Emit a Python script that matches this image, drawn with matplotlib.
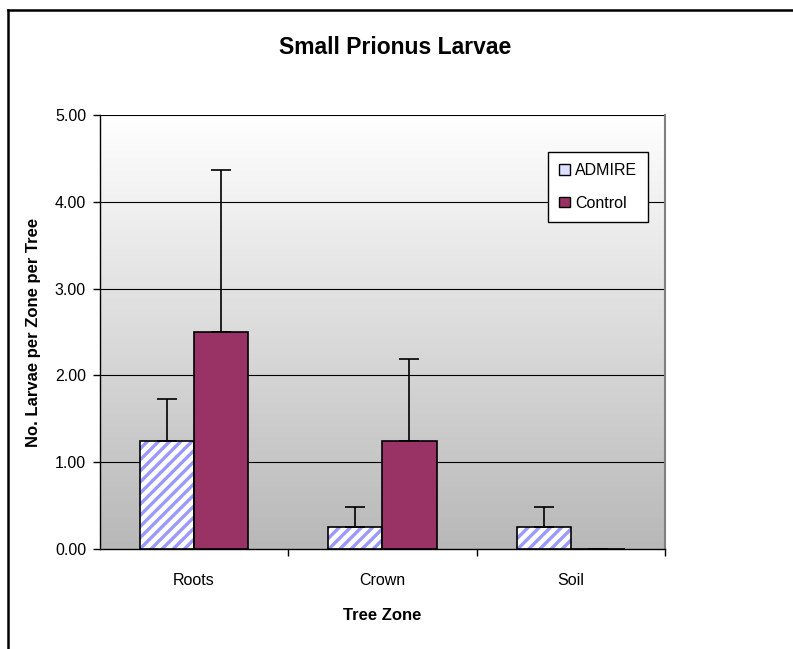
import matplotlib
matplotlib.use('Agg')
import matplotlib.pyplot as plt
import numpy as np
from matplotlib.lines import Line2D
from matplotlib.patches import Rectangle

# data
zones = ["Roots", "Crown", "Soil"]
admire = [1.25, 0.25, 0.25]
admire_err = [0.48, 0.24, 0.24]
control = [2.50, 1.25, 0.0]
control_err = [1.87, 0.94, 0.0]
yticks = [0, 1, 2, 3, 4, 5]

plt.rcParams['font.family'] = ['Liberation Sans', 'DejaVu Sans']
plt.rcParams['hatch.linewidth'] = 2.4

HATCH_BLUE = '#9999ff'
CONTROL = '#993366'

fig = plt.figure(figsize=(7.93, 6.49), dpi=100, facecolor='white')
ax = fig.add_axes([0.126, 0.154, 0.7126, 0.6688])

# gradient plot area background
grad = np.linspace(0, 1, 256).reshape(-1, 1)
cmap = matplotlib.colors.LinearSegmentedColormap.from_list('g', ['#ffffff', '#b8b8b8'])
ax.imshow(grad, cmap=cmap, extent=[-0.5, 2.5, 0, 5], aspect='auto', origin='upper', zorder=0)

x = np.arange(len(zones))
w = 0.287
# hatch drawn in blue, outline drawn on top in black
ax.bar(x - w / 2, admire, w, color='white', edgecolor=HATCH_BLUE, hatch='///', linewidth=0, zorder=3)
ax.bar(x - w / 2, admire, w, fill=False, edgecolor='black', linewidth=1.2, zorder=3.5)
ax.bar(x + w / 2, control, w, color=CONTROL, edgecolor='black', linewidth=1.2, zorder=3)
ax.errorbar(x - w / 2, admire, yerr=[np.zeros(3), admire_err], fmt='none', ecolor='black',
            elinewidth=1.2, capsize=7, capthick=1.2, zorder=4)
ax.errorbar(x + w / 2, control, yerr=[np.zeros(3), control_err], fmt='none', ecolor='black',
            elinewidth=1.2, capsize=7, capthick=1.2, zorder=4)

ax.set_xlim(-0.5, 2.5)
ax.set_ylim(0, 5)
ax.set_yticks(yticks)
ax.set_yticklabels([f"{v:.2f}" for v in yticks], fontsize=11.5)
for v in yticks[1:]:
    ax.axhline(v, color='black', linewidth=0.8, zorder=1)

ax.set_xticks(x)
ax.set_xticklabels(zones, fontsize=11.5)
ax.tick_params(axis='x', length=0, pad=17)
ax.set_xticks([0.5, 1.5, 2.5], minor=True)
ax.tick_params(axis='x', which='minor', length=5, width=1)
ax.tick_params(axis='y', length=5, width=1, direction='out', pad=5)

ax.spines['top'].set_visible(False)
ax.spines['right'].set_color('#808080')
ax.spines['right'].set_linewidth(1.5)
ax.spines['left'].set_linewidth(1.0)
ax.spines['bottom'].set_linewidth(1.0)

ax.set_ylabel("No. Larvae per Zone per Tree", fontsize=12, fontweight='bold', labelpad=10)
ax.set_xlabel("Tree Zone", fontsize=12, fontweight='bold', labelpad=15)
fig.text(0.498, 0.927, "Small Prionus Larvae", ha='center', va='center', fontsize=16.5,
         fontweight='bold')

h_admire = Rectangle((0, 0), 1, 1, facecolor='#dde0ff', edgecolor='black', linewidth=1.0)
h_control = Rectangle((0, 0), 1, 1, facecolor=CONTROL, edgecolor='black', linewidth=1.0)
leg = ax.legend([h_admire, h_control], ["ADMIRE", "Control"], loc='upper left',
                bbox_to_anchor=(0.793, 0.915), borderaxespad=0, fontsize=11.5, frameon=True,
                fancybox=False, edgecolor='black', framealpha=1, handlelength=0.65,
                handleheight=0.65, handletextpad=0.35, borderpad=0.7, labelspacing=1.1)
leg.get_frame().set_linewidth(1.0)

# outer chart frame (top and left edges visible)
fig.add_artist(Line2D([8 / 793, 1.0], [1 - 10 / 649, 1 - 10 / 649], color='black', linewidth=1.8,
                      transform=fig.transFigure))
fig.add_artist(Line2D([8 / 793, 8 / 793], [0, 1 - 10 / 649], color='black', linewidth=1.8,
                      transform=fig.transFigure))

plt.savefig("out.png", dpi=100, facecolor='white')
